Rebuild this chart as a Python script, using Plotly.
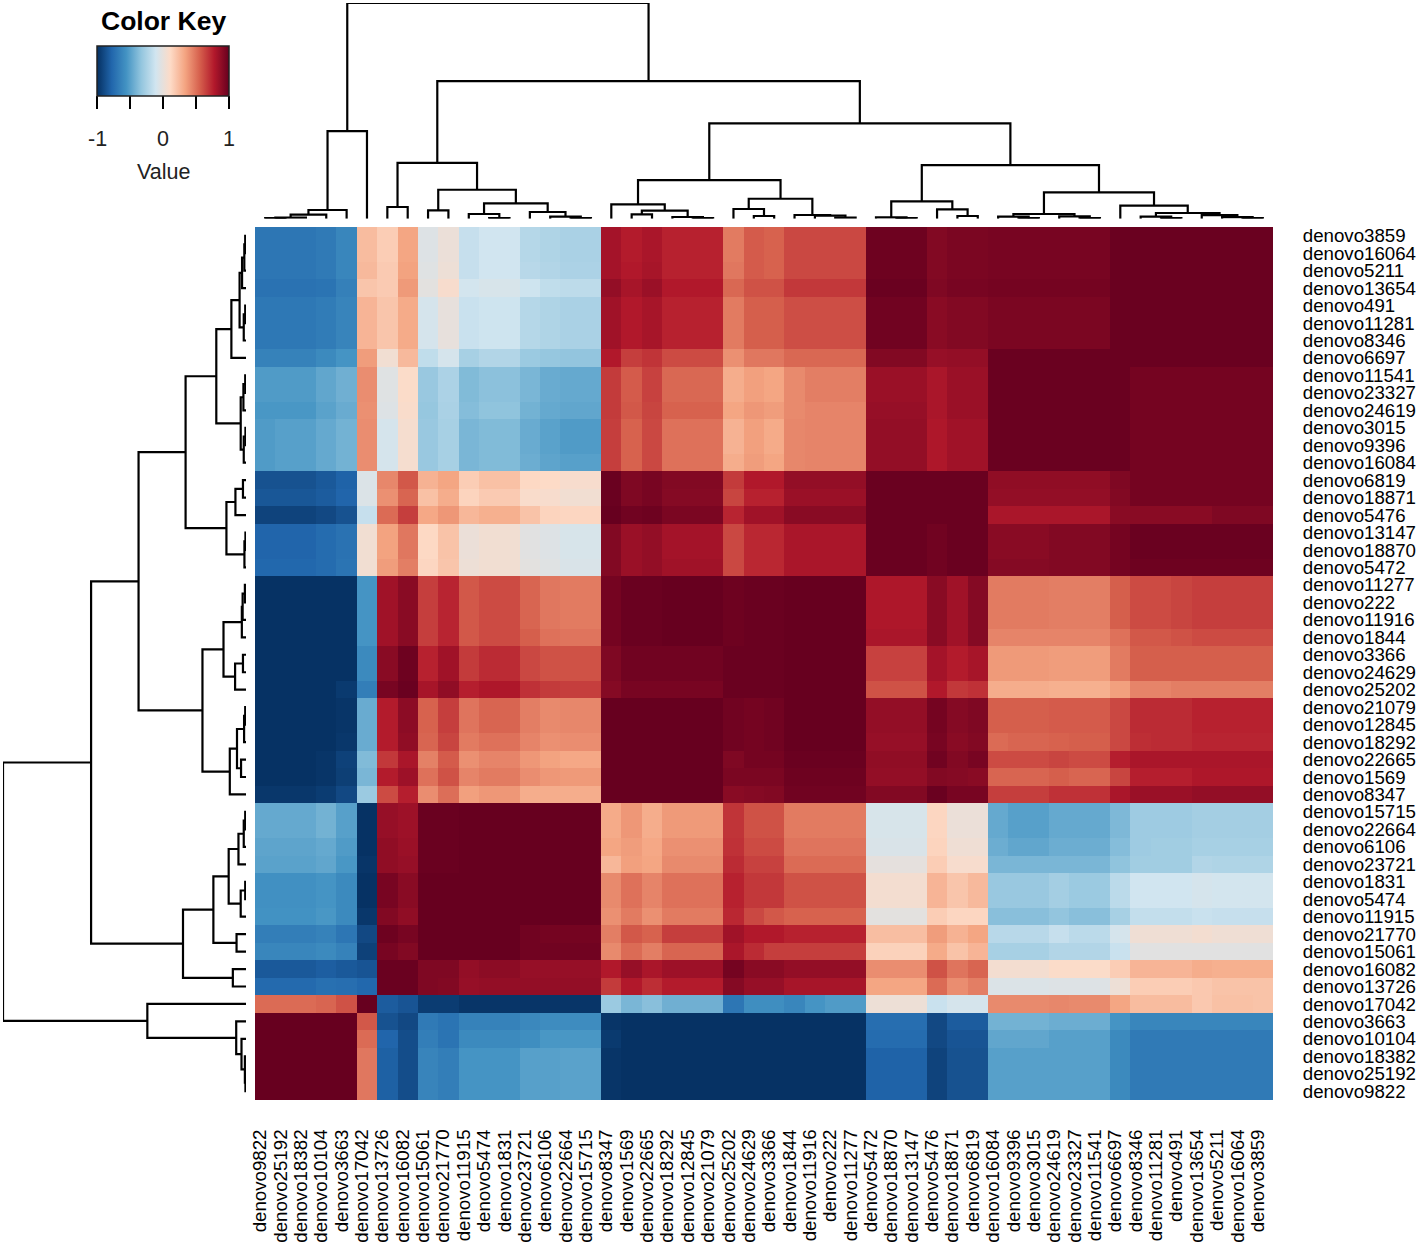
import numpy as np
import plotly.graph_objects as go

W, H = 1418, 1244

row_names = ["denovo3859", "denovo16064", "denovo5211", "denovo13654", "denovo491", "denovo11281", "denovo8346",
             "denovo6697", "denovo11541", "denovo23327", "denovo24619", "denovo3015", "denovo9396", "denovo16084",
             "denovo6819", "denovo18871", "denovo5476", "denovo13147", "denovo18870", "denovo5472", "denovo11277",
             "denovo222", "denovo11916", "denovo1844", "denovo3366", "denovo24629", "denovo25202", "denovo21079",
             "denovo12845", "denovo18292", "denovo22665", "denovo1569", "denovo8347", "denovo15715", "denovo22664",
             "denovo6106", "denovo23721", "denovo1831", "denovo5474", "denovo11915", "denovo21770", "denovo15061",
             "denovo16082", "denovo13726", "denovo17042", "denovo3663", "denovo10104", "denovo18382", "denovo25192",
             "denovo9822"]
col_names = row_names[::-1]

# correlation x 100, rows top to bottom, columns left to right
corr_pct = [
    [-70,-70,-70,-68,-62,24,17,33,-5,2,-15,-11,-11,-21,-23,-25,-25,82,77,80,75,75,75,47,57,55,63,63,63,63,98,98,98,92,94,94,95,95,95,95,95,95,99,99,99,99,99,99,99,99],
    [-70,-70,-70,-68,-62,24,17,33,-5,2,-15,-11,-11,-21,-23,-25,-25,82,77,80,75,75,75,47,57,55,63,63,63,63,98,98,98,92,94,94,95,95,95,95,95,95,99,99,99,99,99,99,99,99],
    [-70,-70,-70,-68,-62,25,18,34,-4,3,-15,-11,-11,-20,-22,-24,-24,82,78,81,75,75,75,48,57,55,63,63,63,63,98,98,98,92,94,94,95,95,95,95,95,95,99,99,99,99,99,99,99,99],
    [-72,-72,-72,-71,-65,20,18,37,-2,8,-10,-8,-8,-12,-17,-18,-18,87,81,85,78,78,78,53,60,60,68,68,68,68,99,99,99,93,95,95,96,96,96,96,96,96,99,99,99,99,99,99,99,99],
    [-69,-69,-69,-67,-63,27,20,31,-9,0,-14,-12,-12,-21,-23,-25,-25,83,78,81,75,75,75,47,56,56,61,61,61,61,97,97,97,90,92,92,94,94,94,94,94,94,99,99,99,99,99,99,99,99],
    [-69,-69,-69,-67,-63,27,20,31,-9,0,-14,-12,-12,-21,-23,-25,-25,83,78,81,75,75,75,47,56,56,61,61,61,61,97,97,97,90,92,92,94,94,94,94,94,94,99,99,99,99,99,99,99,99],
    [-69,-69,-69,-67,-63,27,20,31,-9,0,-14,-12,-12,-21,-23,-25,-25,83,78,81,75,75,75,47,56,56,61,61,61,61,97,97,97,90,92,92,94,94,94,94,94,94,99,99,99,99,99,99,99,99],
    [-64,-64,-64,-60,-55,36,5,25,-17,-9,-26,-22,-22,-30,-32,-33,-33,78,66,69,62,62,62,40,48,48,53,53,53,53,92,92,92,86,87,87,99,99,99,99,99,99,99,99,99,99,99,99,99,99],
    [-52,-52,-52,-47,-43,41,-4,10,-31,-24,-38,-35,-35,-40,-45,-46,-46,67,57,65,53,53,53,30,35,33,42,46,46,46,85,85,85,80,85,85,99,99,99,99,99,99,99,96,96,96,96,96,96,96],
    [-52,-52,-52,-47,-43,41,-4,10,-31,-24,-38,-35,-35,-40,-45,-46,-46,67,57,65,53,53,53,30,35,33,42,46,46,46,85,85,85,80,85,85,99,99,99,99,99,99,99,96,96,96,96,96,96,96],
    [-54,-54,-54,-49,-45,40,-5,9,-32,-25,-37,-34,-34,-42,-46,-47,-47,67,58,64,55,55,55,33,38,36,42,44,44,44,86,86,86,80,85,85,99,99,99,99,99,99,99,96,96,96,96,96,96,96],
    [-52,-50,-50,-46,-42,41,-9,7,-31,-26,-40,-38,-38,-45,-49,-52,-52,66,55,63,50,50,50,28,35,31,43,44,44,44,87,87,87,79,83,83,99,99,99,99,99,99,99,96,96,96,96,96,96,96],
    [-52,-50,-50,-46,-42,41,-9,7,-31,-26,-40,-38,-38,-45,-49,-52,-52,66,55,63,50,50,50,28,35,31,43,44,44,44,87,87,87,79,83,83,99,99,99,99,99,99,99,96,96,96,96,96,96,96],
    [-52,-50,-50,-46,-42,41,-9,7,-31,-26,-40,-38,-38,-44,-48,-50,-50,66,55,63,50,50,50,30,36,33,43,44,44,44,87,87,87,79,83,83,99,99,99,99,99,99,99,96,96,96,96,96,96,96],
    [-86,-86,-86,-83,-79,-6,43,58,28,33,17,22,22,12,11,8,8,99,93,95,92,92,92,67,78,78,87,87,87,87,99,99,99,99,99,99,88,88,88,88,88,88,93,96,96,96,96,96,96,96],
    [-84,-84,-84,-82,-78,-6,40,54,22,30,14,18,18,9,8,5,5,99,93,95,91,91,91,64,75,75,85,85,85,85,99,99,99,99,99,99,87,87,87,87,87,87,92,96,96,96,96,96,96,96],
    [-92,-92,-92,-90,-86,-15,52,66,32,38,26,29,29,21,14,13,13,100,97,98,94,94,94,74,83,83,90,90,90,90,99,99,99,99,99,99,80,80,80,80,80,80,90,90,90,90,90,93,93,93],
    [-78,-78,-78,-75,-72,5,34,48,12,21,2,5,5,-3,-5,-8,-8,92,85,87,82,82,82,63,73,73,80,80,80,80,99,99,99,97,99,99,90,90,90,92,92,92,96,99,99,99,99,99,99,99],
    [-78,-78,-78,-75,-72,5,34,48,12,21,2,5,5,-3,-5,-8,-8,92,85,87,82,82,82,63,73,73,80,80,80,80,99,99,99,97,99,99,90,90,90,92,92,92,96,99,99,99,99,99,99,99],
    [-77,-77,-77,-75,-71,5,36,46,13,20,3,5,5,-2,-4,-7,-7,92,85,87,83,83,83,63,73,73,80,80,80,80,99,99,99,97,99,99,91,91,91,92,92,92,96,98,98,98,98,98,98,98],
    [-99,-99,-99,-99,-99,-55,83,90,66,74,58,62,62,54,48,47,47,96,99,99,100,100,100,98,99,99,100,100,100,100,79,79,79,90,83,91,47,47,47,46,46,46,56,62,62,64,66,66,66,66],
    [-99,-99,-99,-99,-99,-55,83,90,66,74,58,62,62,54,48,47,47,96,99,99,100,100,100,98,99,99,100,100,100,100,79,79,79,90,83,91,47,47,47,46,46,46,56,62,62,64,66,66,66,66],
    [-99,-99,-99,-99,-99,-55,83,90,66,74,58,62,62,54,48,47,47,96,99,99,100,100,100,98,99,99,100,100,100,100,79,79,79,90,83,91,47,47,47,46,46,46,56,62,62,64,66,66,66,66],
    [-99,-99,-99,-99,-99,-55,83,90,66,74,58,62,62,56,50,49,49,96,99,99,100,100,100,98,99,99,100,100,100,100,80,80,80,90,83,91,44,44,44,44,44,44,50,58,58,60,62,62,62,62],
    [-99,-99,-99,-99,-99,-60,90,98,75,83,67,72,72,63,60,60,60,93,97,97,97,97,97,99,99,99,100,100,100,100,65,65,65,82,77,81,37,37,37,36,36,36,47,56,56,56,56,56,56,56],
    [-99,-99,-99,-99,-99,-60,90,98,75,83,67,72,72,63,60,60,60,93,97,97,97,97,97,99,99,99,100,100,100,100,65,65,65,82,77,81,37,37,37,36,36,36,47,56,56,56,56,56,56,56],
    [-99,-99,-99,-99,-96,-66,95,99,81,88,76,79,79,70,67,66,66,91,95,95,95,95,95,99,99,99,100,100,100,100,60,60,60,78,68,70,30,30,30,29,29,29,35,44,44,46,46,46,46,46],
    [-99,-99,-99,-99,-98,-45,77,89,55,66,49,54,54,46,42,43,43,100,100,100,100,100,100,97,96,97,100,100,100,100,87,87,87,96,91,93,56,56,56,57,57,57,63,72,72,72,75,75,75,75],
    [-99,-99,-99,-99,-98,-45,77,89,55,66,49,54,54,46,42,43,43,100,100,100,100,100,100,97,96,97,100,100,100,100,87,87,87,96,91,93,56,56,56,57,57,57,63,72,72,72,75,75,75,75],
    [-99,-99,-99,-99,-97,-45,77,88,54,64,47,50,50,44,40,41,41,100,100,100,100,100,100,97,96,97,100,100,100,100,86,86,86,95,90,92,52,54,54,55,56,56,63,71,72,72,74,74,74,74],
    [-99,-99,-99,-98,-93,-38,68,80,45,57,40,44,44,38,34,32,32,100,100,100,100,100,100,93,96,96,99,99,99,99,88,88,88,97,92,95,62,62,62,64,62,62,76,80,80,80,80,80,80,80],
    [-99,-99,-99,-98,-94,-40,77,84,50,60,44,47,47,41,38,37,37,100,100,100,100,100,100,94,94,94,98,98,98,98,87,87,87,92,91,90,54,54,54,56,54,54,64,76,76,76,79,79,79,79],
    [-97,-97,-97,-95,-90,-30,62,76,41,51,35,38,38,30,30,30,30,100,100,100,100,100,100,90,91,92,97,97,97,97,92,92,92,99,95,95,66,66,66,70,70,70,80,85,85,85,87,87,87,87],
    [-46,-46,-46,-42,-50,-99,86,84,99,99,100,100,100,100,100,100,100,31,38,30,37,37,37,69,60,60,47,47,47,47,-8,-8,-8,13,2,2,-46,-50,-50,-46,-46,-46,-39,-29,-29,-29,-27,-27,-27,-27],
    [-46,-46,-46,-42,-50,-99,86,84,99,99,100,100,100,100,100,100,100,31,38,30,37,37,37,69,60,60,47,47,47,47,-8,-8,-8,13,2,2,-46,-50,-50,-46,-46,-46,-39,-29,-29,-29,-27,-27,-27,-27],
    [-48,-48,-48,-46,-52,-99,88,85,99,99,100,100,100,100,100,100,100,33,36,32,40,40,40,70,62,62,49,49,49,49,-7,-7,-7,14,4,4,-44,-47,-47,-44,-44,-44,-37,-29,-28,-28,-26,-26,-26,-26],
    [-49,-49,-49,-47,-54,-98,88,86,99,99,100,100,100,100,100,100,100,26,35,33,42,42,42,72,65,65,52,52,52,52,-1,-1,-1,17,8,8,-40,-40,-40,-40,-40,-40,-34,-28,-28,-28,-22,-23,-23,-23],
    [-57,-57,-57,-55,-60,-99,95,90,100,100,100,100,100,100,100,100,100,42,50,44,50,50,50,75,68,68,60,60,60,60,6,6,6,27,20,25,-31,-31,-31,-27,-30,-30,-19,-11,-11,-11,-9,-10,-10,-10],
    [-57,-57,-57,-55,-60,-99,95,90,100,100,100,100,100,100,100,100,100,42,50,44,50,50,50,75,68,68,60,60,60,60,6,6,6,27,20,25,-31,-31,-31,-27,-30,-30,-19,-11,-11,-11,-9,-10,-10,-10],
    [-56,-56,-56,-54,-60,-97,92,88,100,100,100,100,100,100,100,100,100,40,47,40,47,47,47,73,63,58,55,55,55,55,-2,-2,-2,17,13,13,-36,-36,-36,-33,-36,-36,-26,-16,-16,-16,-14,-15,-15,-15],
    [-66,-66,-66,-64,-70,-90,98,95,100,100,100,100,100,97,96,96,96,46,58,55,66,66,66,83,78,78,75,75,75,75,23,23,23,36,28,33,-20,-20,-20,-15,-19,-19,-9,4,4,4,6,4,4,4],
    [-62,-62,-62,-60,-64,-93,95,92,100,100,100,100,100,97,97,97,97,42,52,46,54,54,54,80,72,66,66,66,66,66,15,15,15,31,21,27,-26,-26,-26,-22,-22,-22,-14,-3,-3,-3,-3,-3,-3,-3],
    [-83,-83,-83,-81,-83,-85,99,99,93,93,87,89,89,86,86,86,86,78,86,80,84,84,84,96,90,90,87,87,87,87,41,41,41,60,49,54,6,6,6,10,10,10,17,27,27,27,30,29,29,29],
    [-76,-76,-76,-73,-74,-77,99,99,93,92,86,87,87,87,87,87,87,67,78,71,77,77,77,91,86,86,81,81,81,81,33,33,33,52,41,46,-6,-6,-6,-5,-5,-5,3,17,17,17,19,21,21,21],
    [52,52,52,54,60,100,-82,-85,-95,-95,-98,-98,-98,-98,-98,-98,-98,-30,-40,-36,-43,-43,-43,-70,-58,-58,-62,-55,-52,-52,3,3,3,-14,-9,-9,42,42,42,43,42,42,33,24,24,24,19,22,22,21],
    [100,100,100,100,100,58,-86,-90,-68,-71,-64,-64,-64,-61,-59,-59,-59,-98,-99,-99,-99,-99,-99,-99,-99,-99,-99,-99,-99,-99,-74,-74,-74,-90,-82,-82,-42,-42,-42,-44,-44,-44,-55,-62,-62,-62,-62,-62,-62,-62],
    [100,100,100,100,100,52,-78,-88,-66,-71,-60,-60,-60,-58,-54,-54,-54,-96,-99,-99,-99,-99,-99,-99,-99,-99,-99,-99,-99,-99,-75,-75,-75,-90,-85,-85,-47,-47,-47,-50,-50,-50,-60,-68,-68,-68,-68,-68,-68,-68],
    [100,100,100,100,100,48,-80,-88,-63,-66,-55,-55,-55,-50,-50,-49,-49,-98,-99,-99,-99,-99,-99,-99,-99,-99,-99,-99,-99,-99,-79,-79,-79,-92,-86,-86,-50,-50,-50,-50,-50,-50,-60,-68,-68,-68,-68,-68,-68,-68],
    [100,100,100,100,100,48,-80,-88,-63,-66,-55,-55,-55,-50,-50,-49,-49,-98,-99,-99,-99,-99,-99,-99,-99,-99,-99,-99,-99,-99,-79,-79,-79,-92,-86,-86,-50,-50,-50,-50,-50,-50,-60,-68,-68,-68,-68,-68,-68,-68],
    [100,100,100,100,100,48,-80,-88,-63,-66,-55,-55,-55,-50,-50,-49,-49,-98,-99,-99,-99,-99,-99,-99,-99,-99,-99,-99,-99,-99,-79,-79,-79,-92,-86,-86,-50,-50,-50,-50,-50,-50,-60,-68,-68,-68,-68,-68,-68,-68],
]

# hclust style merges: negative = leaf (column number), positive = earlier merge, then height
merges = [
    (-1, -2, 0.5), (1, -3, 1), (2, -4, 4), (3, -5, 8.7), (4, -6, 87.7),
    (-7, -8, 11.7), (-9, -10, 8.4), (-12, -13, 0.7), (-11, 8, 4.7), (-16, -17, 0.7),
    (-15, 10, 2), (-14, 11, 6.7), (9, 12, 15.4), (7, 13, 29), (6, 14, 56),
    (-19, -20, 4.4), (-22, -23, 0.7), (-21, 17, 1.7), (16, 18, 8), (-18, 19, 14.4),
    (-25, -26, 2.7), (-24, 21, 9.7), (-29, -30, 1), (-28, 23, 3), (-27, 24, 3.7),
    (22, 25, 20), (20, 26, 38.7), (-32, -33, 0.5), (-31, 28, 1.4), (-35, -36, 2.7),
    (-34, 30, 9.4), (29, 31, 17.4), (-38, -39, 0.5), (-37, 33, 2), (-41, -42, 0.7),
    (-40, 35, 2.3), (34, 36, 4.7), (-45, -46, 0.7), (-44, 38, 2), (-49, -50, 0.7),
    (-48, 40, 1.5), (-47, 41, 3.5), (39, 42, 5.7), (-43, 43, 13), (37, 44, 26.4),
    (32, 45, 53.7), (27, 46, 95.5), (15, 47, 137.7), (5, 48, 216),
]

key_ticks = [-1, -0.5, 0, 0.5, 1]
key_labels = ["-1", "0", "1"]
key_label_vals = [-1, 0, 1]

rdbu = ["#053061", "#2166ac", "#4393c3", "#92c5de", "#d1e5f0",
        "#fddbc7", "#f4a582", "#d6604d", "#b2182b", "#67001f"]
colorscale = [[i / 9, c] for i, c in enumerate(rdbu)]


def dendro_segments():
    # walks the merge table, returns positions along the leaves and heights
    pos, hgt = {}, {}
    ps, hs = [], []
    for n, (a, b, h) in enumerate(merges, start=1):
        pa = -a if a < 0 else pos[a]
        pb = -b if b < 0 else pos[b]
        ha = 0 if a < 0 else hgt[a]
        hb = 0 if b < 0 else hgt[b]
        ps += [pa, pa, pb, pb, None]
        hs += [ha, h, h, hb, None]
        pos[n] = (pa + pb) / 2
        hgt[n] = h
    return ps, hs


def fx(px):
    return px / W


def fy(px):
    return 1 - px / H


z = np.array(corr_pct) / 100
ps, hs = dendro_segments()
font = "Liberation Sans"

fig = go.Figure()
fig.add_trace(go.Heatmap(
    z=z, x=col_names, y=row_names, zmin=-1, zmax=1, colorscale=colorscale,
    colorbar=dict(
        orientation="h", x=fx(97), y=fy(46), xanchor="left", yanchor="top",
        lenmode="pixels", len=132, thicknessmode="pixels", thickness=50,
        xpad=0, ypad=0, outlinecolor="#222222", outlinewidth=1.5,
        ticks="outside", ticklen=13, tickwidth=2, tickcolor="black",
        tickmode="array", tickvals=key_ticks, showticklabels=False,
    ),
))
# top dendrogram
fig.add_trace(go.Scatter(x=ps, y=hs, mode="lines", line=dict(color="black", width=2.2),
                         xaxis="x2", yaxis="y2", showlegend=False, hoverinfo="skip"))
# left one is the same tree, rows run the other way
fig.add_trace(go.Scatter(x=hs, y=[None if p is None else 51 - p for p in ps], mode="lines",
                         line=dict(color="black", width=2.2),
                         xaxis="x3", yaxis="y3", showlegend=False, hoverinfo="skip"))

tick_font = dict(family=font, size=18.7, color="black")
fig.update_layout(
    width=W, height=H, margin=dict(l=0, r=0, t=0, b=0),
    paper_bgcolor="white", plot_bgcolor="white", showlegend=False, font=dict(family=font),
    xaxis=dict(domain=[fx(255), fx(1273)], tickangle=-90, dtick=1, tickfont=tick_font, automargin=False,
               ticks="outside", ticklen=21, tickcolor="rgba(0,0,0,0)", ticklabelshift=-5,
               showgrid=False, zeroline=False),
    yaxis=dict(domain=[fy(1100), fy(227)], autorange="reversed", side="right", dtick=1, tickfont=tick_font,
               automargin=False, ticks="outside", ticklen=25, tickcolor="rgba(0,0,0,0)",
               showgrid=False, zeroline=False),
    xaxis2=dict(domain=[fx(255), fx(1273)], range=[0.5, 50.5], visible=False, anchor="y2"),
    yaxis2=dict(domain=[fy(218.7), fy(3)], range=[0, 216], visible=False, anchor="x2"),
    xaxis3=dict(domain=[fx(3), fx(246)], range=[216, 0], visible=False, anchor="y3"),
    yaxis3=dict(domain=[fy(1100), fy(227)], range=[50.5, 0.5], visible=False, anchor="x3"),
)

fig.add_annotation(text="<b>Color Key</b>", x=fx(163), y=fy(21), xref="paper", yref="paper", showarrow=False,
                   xanchor="center", yanchor="middle", font=dict(family=font, size=26.5, color="black"))
fig.add_annotation(text="Value", x=fx(163), y=fy(172), xref="paper", yref="paper", showarrow=False,
                   xanchor="center", yanchor="middle", font=dict(family=font, size=21.5, color="#222222"))
for val, lab in zip(key_label_vals, key_labels):
    fig.add_annotation(text=lab, x=fx(163 + val * 66), y=fy(139), xref="paper", yref="paper", showarrow=False,
                       xanchor="center", yanchor="middle", font=dict(family=font, size=21.5, color="#222222"))

fig.write_html("out.html", config={"displayModeBar": False}, post_script="document.body.style.margin='0';")
